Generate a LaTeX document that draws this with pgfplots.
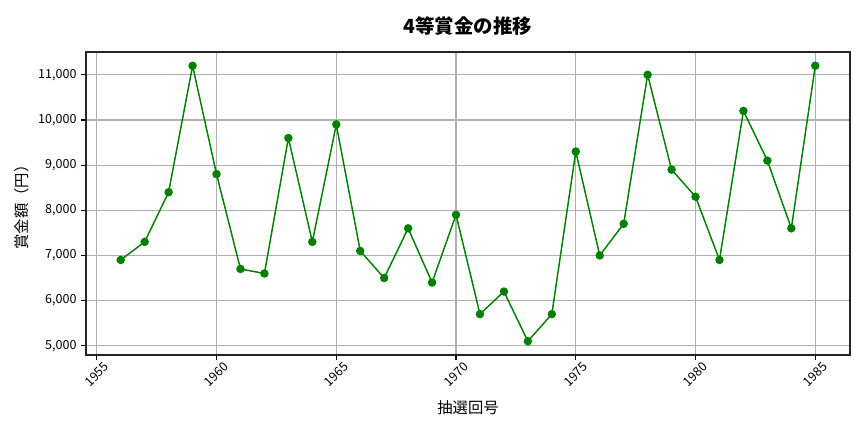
\documentclass[border=0pt]{standalone}
\usepackage{fontspec}
\setmainfont{Noto Sans CJK JP}
\usepackage{pgfplots}
\pgfplotsset{compat=1.18}

\definecolor{linegreen}{HTML}{008000}
\definecolor{gridgray}{HTML}{B0B0B0}

\begin{document}
\begin{tikzpicture}
    \useasboundingbox (-64.5bp,-57.75bp) rectangle (583.5bp,266.25bp);
    \begin{axis}[
        at={(0,0)}, anchor=south west,
        scale only axis,
        width=573bp, height=227.25bp,
        xmin=1954.55, xmax=1986.45,
        ymin=4795, ymax=11505,
        xtick={1955,1960,1965,1970,1975,1980,1985},
        ytick={5000,6000,7000,8000,9000,10000,11000},
        xtick pos=left, ytick pos=left,
        tick align=outside,
        major tick length=3.6bp,
        tick style={black, line width=0.83bp},
        grid=major,
        major grid style={line width=0.83bp, draw=gridgray},
        axis line style={line width=0.83bp, draw=black!85},
        /pgf/number format/assume math mode=true,
        x tick label style={/pgf/number format/1000 sep={}, font=\fontsize{9.4bp}{11bp}\selectfont,
            rotate=45, anchor=center},
        xticklabel shift=11bp,
        y tick label style={/pgf/number format/1000 sep={,}, font=\fontsize{9.4bp}{11bp}\selectfont},
        scaled y ticks=false,
        xlabel={抽選回号},
        ylabel={賞金額（円）},
        title={\bfseries 4等賞金の推移},
        xlabel style={at={(axis description cs:0.5,-0.1747)}, anchor=center,
            font=\fontsize{11.5bp}{13bp}\selectfont},
        ylabel style={at={(axis description cs:-0.0838,0.5)}, anchor=center, rotate=0,
            font=\fontsize{11.5bp}{13bp}\selectfont},
        title style={at={(axis description cs:0.5,1.0594)}, anchor=center,
            font=\fontsize{14.6bp}{17bp}\selectfont},
    ]
    \addplot[color=linegreen, line width=1.1bp, mark=*, mark size=2.6bp,
             mark options={fill=linegreen, draw=linegreen}] coordinates {
        (1956,6900) (1957,7300) (1958,8400) (1959,11200) (1960,8800)
        (1961,6700) (1962,6600) (1963,9600) (1964,7300) (1965,9900)
        (1966,7100) (1967,6500) (1968,7600) (1969,6400) (1970,7900)
        (1971,5700) (1972,6200) (1973,5100) (1974,5700) (1975,9300)
        (1976,7000) (1977,7700) (1978,11000) (1979,8900) (1980,8300)
        (1981,6900) (1982,10200) (1983,9100) (1984,7600) (1985,11200)
    };
    \end{axis}
\end{tikzpicture}
\end{document}
